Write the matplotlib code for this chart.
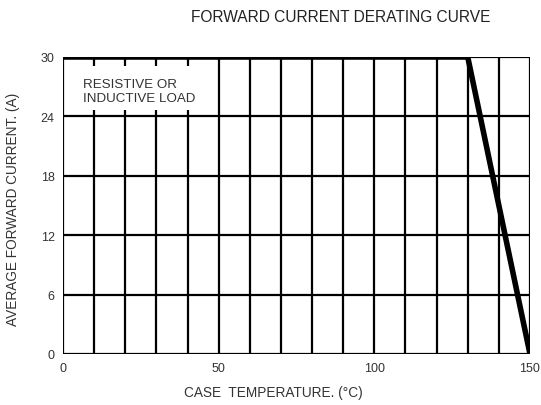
import matplotlib
matplotlib.use('Agg')
import matplotlib.pyplot as plt
from matplotlib.patches import Rectangle
import numpy as np

# Derating curve points
temp = [0, 130, 150]
current = [30, 30, 0]

x_ticks = [0, 50, 100, 150]
y_ticks = [0, 6, 12, 18, 24, 30]

plt.rcParams['font.family'] = 'Liberation Sans'

fig = plt.figure(figsize=(5.41, 4.06), dpi=100)
ax = fig.add_axes([63 / 541, 1 - 355 / 406, 467 / 541, 297 / 406])

# Grid: vertical lines every 10, horizontal every 6
for xv in np.arange(0, 151, 10):
    ax.axvline(xv, color='black', linewidth=1.6, zorder=1)
for yv in y_ticks:
    ax.axhline(yv, color='black', linewidth=1.6, zorder=1)

# Plot the curve
ax.plot(temp, current, color='black', linewidth=4, solid_joinstyle='miter', zorder=3)

ax.set_xlim(0, 150)
ax.set_ylim(0, 30)
ax.set_xticks(x_ticks)
ax.set_yticks(y_ticks)
ax.tick_params(length=0, labelsize=9, colors='#333333', pad=6)
for s in ax.spines.values():
    s.set_visible(False)

# White label box that hides the grid behind the note
ax.add_patch(Rectangle((1, 24.6), 47, 4.5, facecolor='white', edgecolor='none', zorder=2))
ax.text(6.3, 26.6, "RESISTIVE OR\nINDUCTIVE LOAD", fontsize=9.6, color='#333333',
        va='center', ha='left', linespacing=1.2, zorder=4)

fig.text(341 / 541, 1 - 18 / 406, "FORWARD CURRENT DERATING CURVE", ha='center', va='center',
         fontsize=11.2, color='#222222')
fig.text(273 / 541, 1 - 393 / 406, "CASE  TEMPERATURE. (°C)", ha='center', va='center',
         fontsize=9.8, color='#333333')
fig.text(13 / 541, 1 - 209 / 406, "AVERAGE FORWARD CURRENT. (A)", ha='center', va='center',
         rotation=90, fontsize=9.8, color='#333333')

plt.savefig('out.png', dpi=100)
